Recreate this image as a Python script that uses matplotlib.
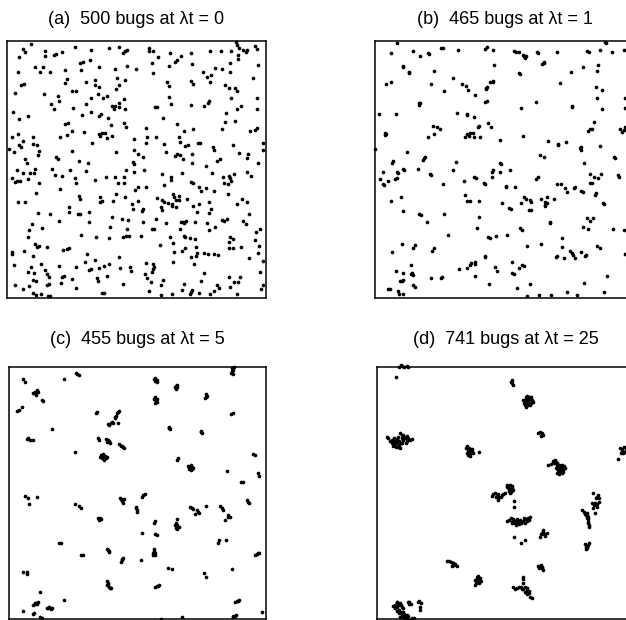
import numpy as np
import matplotlib.pyplot as plt

plt.rcParams['font.family'] = ['Liberation Sans', 'DejaVu Sans']

# occupied lattice sites: (column, row from the top[, bugs on the site])
bugs_a = [
    (73,11),(48,26),(54,35),(36,50),(113,30),(115,47),(140,43),(148,41),(165,35),(205,18),
    (252,29),(306,21),(337,20),(360,27),(353,31),(348,38),(426,21,2),(426,30),(440,30),(453,48),
    (490,36),(523,45),(510,59),(506,65),(552,37),(610,30),(642,30),(674,31),(688,3,2),(692,13),
    (696,21),(708,27,2),(722,29,2),(718,35),(744,17),(750,25),(693,43),(694,56),(755,73),(85,78),
    (98,93),(109,80),(128,93),(174,88),(219,66),(227,64),(222,89),(250,59),(277,78),(324,84),
    (359,76),(388,84),(435,66),(438,98),(486,75),(557,69),(624,81),(647,85),(670,68),(590,95),
    (602,110),(613,103),(611,123),(670,93),(740,113),(33,95),(41,133),(50,130),(179,116),(173,128),
    (238,123),(263,118,2),(263,133),(276,140),(330,111),(353,119),(336,133,2),(328,145,2),(480,123),(488,136),
    (553,120),(560,131),(656,133),(668,143),(686,143),(690,151),(24,158),(110,161),(194,151),(208,150),
    (273,159),(152,166),(155,180),(300,166),(287,172),(253,173),(236,190),(132,191),(141,206),(198,203),
    (325,195),(335,186),(337,199,2),(316,197,2),(320,205),(351,176),(353,204),(446,199),(452,199),(488,168),
    (492,189),(552,193),(592,197),(604,187),(608,181),(674,173),(751,173),(690,205),(704,197),(751,206),
    (17,213),(35,235),(64,225),(226,223),(252,213),(277,225),(282,220),(302,233),(468,233),(657,217),
    (175,250),(183,246),(312,253),(350,248),(358,258),(417,262),(510,250),(560,264),(532,270),(656,244),
    (686,240),(647,265),(730,270),(746,268),(752,262),(34,280),(15,290),(47,300),(35,313),(42,320),
    (22,335),(6,324),(78,290),(77,310),(90,313),(97,331),(93,343),(158,288),(180,283),(195,270),
    (230,273),(275,280),(285,276),(280,286,2),(293,276,2),(300,293),(315,286),(254,306),(195,331),(326,335),
    (380,294),(420,288),(418,306),(448,288,2),(472,311),(478,335),(516,290),(520,303),(536,315),(545,314),
    (574,308),(581,306),(620,318),(622,328),(680,313),(696,336),(724,340),(721,351),(770,308),(768,328),
    (147,348),(152,356),(217,360),(242,368),(382,328),(395,340),(408,350),(504,346),(510,341),(520,343),
    (528,356),(555,341),(556,368),(378,363),(380,370),(55,355),(60,368),(631,361),(640,356),(599,376),
    (754,368),(30,388),(48,396),(69,396),(80,398),(85,385),(63,416),(135,384),(143,402),(165,405),
    (189,388),(203,412),(206,427),(238,391),(15,413,2),(23,423),(31,420,2),(40,422),(96,426),(265,418),
    (298,408),(323,410),(332,426),(350,426),(351,410),(356,388),(380,393),(412,388),(466,400),(492,408),
    (494,418),(525,396),(552,423),(560,428),(576,440),(583,450),(597,441),(615,396),(650,408),(666,406),
    (683,401),(652,426),(663,430,2),(672,422,2),(670,413),(720,395),(732,406),(158,446),(86,458),(383,448),
    (393,440),(417,438),(472,434),(623,451),(665,460),(34,483),(55,483),(217,466),(220,474),(278,468),
    (280,483),(285,480),(317,481),(327,460),(355,468),(375,491),(393,481),(452,473),(466,478),(472,484),
    (485,487,2),(497,490),(501,470,2),(508,478),(499,460,2),(517,465),(518,478),(540,474),(577,490),(607,484),
    (692,490),(706,476),(720,485),(187,498),(93,518),(130,521),(185,515),(212,521),(219,521),(246,513),
    (378,505),(410,505),(405,511),(464,498),(467,507),(497,495),(507,498),(558,496),(570,515),(612,506),
    (607,518),(728,520),(74,549),(65,568),(62,588),(104,562),(155,541),(246,545),(314,530),(344,535),
    (364,539),(309,560),(360,565),(410,543),(447,535),(436,565),(442,565),(477,546),(522,543),(529,545,2),
    (533,548,2),(537,541,2),(566,545),(602,546),(645,538),(652,540),(662,536),(708,540),(717,550),(748,573),
    (760,565),(608,568),(626,558),(520,565),(531,585),(535,590),(550,593),(565,595),(221,583),(266,589),
    (306,592),(347,588),(358,586),(365,585),(402,586),(489,590),(500,607),(670,588),(680,596),(668,603),
    (744,598),(756,615),(85,610),(91,620),(96,617),(121,619),(168,629),(179,626),(187,623),(15,635),
    (14,640),(52,630),(77,646),(240,640),(336,649),(460,614),(502,633),(526,630),(535,623),(552,648),
    (567,646),(568,618),(570,638),(592,636),(605,641),(621,639),(633,644),(668,623),(680,621),(704,619),
    (726,653),(754,638),(22,672),(72,679),(103,671),(115,687),(120,700),(157,675),(206,680),(245,688),
    (253,685),(235,665),(264,659),(275,681),(290,675),(305,671),(339,682),(370,679),(371,692),(419,666),
    (438,669),(442,678),(438,685,2),(436,693,2),(500,664),(563,671),(770,661),(63,695),(80,698),(86,721),
    (78,719),(126,708),(120,733),(126,729),(165,708),(170,706),(196,715),(163,728),(208,743),(270,711),
    (273,721),(301,706),(348,730),(416,700),(420,711),(432,723),(428,750),(464,733),(470,718),(496,760),
    (533,730),(550,760),(527,747),(557,749,2),(552,753,2),(576,756),(591,698),(583,721),(611,761),(621,751),
    (631,733),(636,743),(666,708),(670,738),(683,725),(695,725),(701,708),(692,760),(760,693),(770,733),
    (764,745),(25,733),(47,745),(66,735),(77,758),(87,763),(102,760),(128,765,2),(123,766,2),(284,758),
    (290,757),(463,763),
]

bugs_b = [
    (67,8),(48,36),(115,31),(135,45),(159,38),(163,40,2),(199,21),(205,21,2),(249,28),(331,25),
    (336,20,2),(355,28),(417,31,2),(423,35,2),(433,35,2),(445,43,2),(450,51,2),(455,45,2),(448,46,2),(488,35,2),
    (490,38,2),(548,33),(638,30,2),(643,33,2),(677,29),(691,3,2),(695,7,2),(712,35),(747,29),(83,75,2),
    (85,78,2),(101,95,2),(103,98,2),(177,91),(357,73),(503,71,2),(508,63,2),(507,68,2),(590,93),(625,80),
    (669,73),(667,91),(33,130,2),(48,125,2),(168,129),(233,113),(260,131),(273,135),(279,148),(207,150),
    (301,163),(333,141,2),(335,138,2),(333,145,2),(345,123,2),(353,121,2),(355,125,2),(433,98,2),(435,100,2),(556,128),
    (665,138),(681,148),(667,172),(750,173),(133,188,2),(131,193,2),(135,186,2),(330,183,2),(336,180,2),(438,203),
    (485,183),(591,197,2),(593,199,2),(682,205),(750,201),(12,219),(64,220),(245,216,2),(275,219,2),(277,223,2),
    (297,228),(1,326),(30,278,2),(32,281,2),(29,283,2),(173,255),(187,260),(195,266),(177,280),(160,288),
    (310,258,2),(313,255,2),(340,246,2),(348,258),(270,288),(277,280,2),(285,276,2),(283,286,2),(293,278,2),(298,290),
    (315,288),(375,298),(445,286),(519,301),(549,314,2),(551,310,2),(575,305),(641,270,2),(647,266,2),(652,264,2),
    (659,243),(735,266,2),(741,274,2),(747,268,2),(752,258),(677,316),(618,328,2),(616,323,2),(620,318,2),(96,333),
    (147,353,2),(150,348,2),(145,358,2),(51,366,2),(53,360,2),(242,364),(235,388),(376,366,2),(379,371,2),(495,344),
    (509,348),(628,368),(717,348,2),(720,353,2),(23,393),(15,416),(25,430,2),(28,433,2),(39,420),(60,416,2),
    (65,413,2),(65,394,2),(69,396,2),(83,386,2),(88,388,2),(130,385),(165,400,2),(169,404,2),(205,430),(266,420),
    (297,408,2),(303,413,2),(327,426,2),(329,430,2),(351,393,2),(355,388,2),(351,408),(374,394),(405,388),(393,436,2),
    (395,440,2),(421,438),(485,416,2),(490,410,2),(547,430),(560,430),(572,441),(578,453),(598,443,2),(600,438,2),
    (619,451,2),(626,453,2),(647,428,2),(652,426,2),(647,401),(657,410),(670,411),(680,400),(663,458,2),(661,462,2),
    (731,403,2),(733,410,2),(49,481),(77,468),(271,463),(275,482,2),(285,482,2),(313,481),(380,488),(439,488),
    (449,470,2),(455,474,2),(465,478,2),(469,483,2),(499,475),(511,483,2),(517,470),(517,486,2),(511,494,2),(537,475),
    (686,488,2),(688,490,2),(85,511),(131,521,2),(138,523,2),(155,545),(207,519),(313,529),(305,561),(220,583),
    (339,590,2),(344,592,2),(363,586),(398,583),(403,503,2),(410,505,2),(462,507,2),(468,507,2),(511,497),(437,563,2),
    (443,568,2),(525,548,2),(527,545,2),(562,593),(500,610),(457,615),(563,620),(638,533,2),(645,541,2),(655,533),
    (625,560,2),(641,565,2),(715,565),(748,569),(667,617,2),(675,623,2),(545,648,2),(548,646,2),(569,651),(585,630),
    (592,636),(595,643),(600,651),(619,635),(631,645,2),(635,643,2),(751,641),(80,611),(113,621),(120,613),
    (50,633),(172,631,2),(177,623,2),(108,673),(63,690),(83,698),(109,700,2),(113,703,2),(111,698,2),(75,721,2),
    (80,721,2),(85,718,2),(115,733,2),(120,739,2),(168,713),(198,712,2),(200,709,2),(253,685),(275,683,2),(285,673,2),
    (288,668,2),(299,663,2),(301,671,2),(300,705),(330,646,2),(331,650,2),(360,679,2),(367,690,2),(413,665),(411,698,2),
    (417,699,2),(433,681),(442,673,2),(448,676,2),(341,730),(427,743),(465,730),(628,728),(696,707),(40,745,2),
    (45,745,2),(70,751),(73,761,2),(83,759,2),(458,765),(493,763),(530,762),(576,753),(608,764),(687,755),
]

bugs_c = [
    (42,38,2),(46,46,2),(72,80,2),(77,75,2),(82,70,2),(80,85,2),(75,80),(85,75),(98,100,2),(100,102),
    (30,130,2),(37,122,2),(22,132),(164,38),(200,20),(208,26,2),(204,23),(434,38,3),(440,42,3),(444,40,2),
    (438,44,3),(436,35),(442,47),(499,58,3),(502,62,3),(500,66,2),(496,62),(504,56),(437,92,2),(440,102,2),
    (438,108,2),(442,98,2),(435,98),(444,105),(589,82,2),(592,88,3),(587,95,2),(590,92),(668,5,2),(672,22,2),
    (666,18,2),(675,0,2),(670,10),(669,14),(666,142,2),(670,138,2),(262,135,2),(260,140,2),(320,148,2),(322,140,2),
    (328,132,2),(318,155,2),(325,137),(316,150),(297,172,2),(304,170,2),(312,168,2),(308,165),(300,175),(327,170),
    (129,187),(480,180,2),(482,188,2),(478,185,2),(480,184),(575,192,2),(578,198,2),(576,195),(52,217,2),(62,219,2),
    (70,221),(57,214),(265,215,2),(268,220,2),(290,217,2),(298,223,2),(294,227,2),(302,230,2),(296,220),(300,226),
    (328,233,2),(334,237,2),(342,240,2),(344,245,2),(338,238),(197,257),(272,270,3),(282,263,3),(287,267,3),(290,275,3),
    (278,275,3),(284,279,3),(292,271,3),(280,270),(286,273),(276,266),(504,280,2),(507,275,2),(537,297,3),(542,303,3),
    (547,300,3),(552,305,3),(544,310,3),(540,306),(548,308),(545,296),(652,313),(732,263,2),(737,265,2),(747,320,2),
    (748,327,2),(694,345,2),(700,345,2),(48,388,2),(57,395),(60,413),(82,390),(197,413,2),(210,418,2),(216,423,2),
    (332,393,3),(337,401,3),(342,409,3),(344,397,3),(339,404),(335,396),(400,385,2),(397,391,2),(407,382,2),(380,420,2),
    (382,430,2),(384,437,2),(381,425),(542,420,2),(552,427,2),(562,431,2),(568,440,2),(558,443,2),(547,425),(565,436),
    (590,418),(632,417,2),(637,425,2),(640,430,2),(714,400,2),(718,410,2),(716,405),(657,445,2),(662,450,2),(648,460,2),
    (655,452),(265,455,3),(272,453,3),(276,457,3),(268,460),(502,457,2),(434,468,2),(437,464,2),(500,470,3),(504,476,3),
    (508,482,3),(502,488,3),(497,475,3),(503,480),(499,483),(399,498),(437,502,2),(442,505,2),(150,528,2),(154,530,2),
    (215,565,2),(222,565,2),(294,548,2),(300,555,2),(297,550,2),(298,552),(434,548,3),(432,558,3),(436,565,3),(430,564,3),
    (433,553),(437,560),(337,578,2),(342,575,2),(334,585,2),(339,580),(395,580),(630,520,2),(627,528,2),(650,520),
    (750,558,2),(742,562,2),(738,565,2),(746,560),(40,617),(54,615,2),(52,622,2),(477,604,2),(488,606,2),(583,620,2),
    (590,630,2),(669,607),(294,642,2),(297,648,2),(292,655,2),(304,665,2),(300,660,2),(296,653),(302,663),(438,660,2),
    (447,658,2),(450,656,2),(443,657),(92,676),(76,708,3),(82,712,3),(72,715,3),(86,707,3),(79,708),(77,713),
    (116,723,3),(122,725,3),(127,723,3),(112,725,3),(119,721),(124,728),(165,700),(40,732),(72,743,2),(75,740,2),
    (92,750,2),(98,753,2),(682,702,2),(690,700,2),(677,705,2),(685,702),(672,747,3),(680,745,3),(670,752,3),(676,749),
    (757,735),(517,750),(455,757),
]

bugs_d = [
    # top edge, upper left
    (66,2,2),(73,-2,2),(80,0),(88,-3),(93,0),(70,-5),(56,32),(405,40,2),(403,50,2),(406,55,2),(402,46,2),
    # upper middle cluster
    (443,100,3),(448,95,3),(453,102,3),(458,98,3),(463,100,3),(448,110,3),(453,115,3),(440,108,3),(456,90,3),(466,105,3),
    (446,120,3),(450,88,3),(460,108,3),(445,92,3),(437,100,3),(452,108,3),(458,115,3),(442,115,3),(462,92,3),(449,103,3),
    (483,200,2),(493,198,2),(496,205,2),(488,196,2),(492,207,2),
    # left cluster
    (68,200,3),(78,204,3),(88,208,3),(33,215,3),(43,220,3),(48,225,3),(58,217,3),(66,223,3),(73,213,3),(78,220,3),
    (88,223,3),(98,220,3),(43,230,3),(53,233,3),(63,240,3),(68,243,3),(60,230,3),(38,222,3),(50,215,3),(53,222,3),
    (63,210,3),(70,230,3),(83,215,3),(93,213,3),(85,228,3),(75,228,3),(55,240,3),(48,238,3),(28,212,3),(103,217,3),
    (73,205,3),(60,225,3),(80,210,3),(65,235,3),
    (266,243,2),(273,250,2),(278,255,2),(283,247,2),(270,260,2),(278,267,2),(288,260,2),(306,257,2),(268,238,2),(275,243,2),
    (281,260,2),(285,253,2),(274,256,2),(272,265,2),(280,250,2),
    (728,245,2),(733,253,2),(740,240,2),(738,260,2),(723,277,2),(735,247,2),(745,250,2),(742,257,2),(730,258,2),(746,242,2),
    # right-middle cluster
    (533,280,3),(538,290,3),(543,300,3),(548,305,3),(553,295,3),(558,310,3),(546,315,3),(540,320,3),(553,320,3),(563,305,3),
    (513,295,3),(530,290,3),(540,300,3),(545,295,3),(550,310,3),(535,305,3),(555,305,3),(548,315,3),(543,310,3),(538,295,3),
    (557,315,3),(560,298,3),(535,285,3),(550,300,3),(545,322,3),(528,282,3),(520,292,3),
    # centre clusters
    (388,360,2),(398,355,2),(403,363,2),(408,370,2),(396,367,2),(400,375,2),(348,383,2),(358,387,2),(366,390,2),(373,385,2),
    (362,400,2),(378,383,2),(410,403,2),(410,422,2),(393,362,2),(401,368,2),(395,372,2),(390,355,2),(405,357,2),(352,380,2),
    (362,383,2),(370,390,2),(355,392,2),(343,388,2),(383,380,2),(397,380,2),
    (613,430,2),(620,437,2),(628,440,2),(633,450,2),(626,445,2),(631,465,2),(648,380,2),(660,390,2),(666,395,2),(653,410,2),
    (660,420,2),(643,410,2),(654,440,2),(623,442,2),(630,445,2),(628,455,2),(632,458,2),(655,395,2),(662,385,2),(650,415,2),
    (658,412,2),(648,425,2),(664,405,2),
    (396,460,3),(408,457,3),(418,463,3),(428,460,3),(440,455,3),(453,453,3),(458,450,3),(403,465,3),(413,470,3),(423,468,3),
    (433,465,3),(448,462,3),(400,455,3),(412,463,3),(420,457,3),(430,468,3),(438,462,3),(445,457,3),(455,460,3),(425,473,3),
    (416,475,3),(443,468,3),(404,470,3),(390,462,3),
    (633,468,2),(634,480,2),(636,474,2),
    (496,490,2),(493,498,2),(500,502,2),(508,500,2),(488,510,2),(498,495,2),(503,507,2),(490,503,2),
    (410,510,2),(430,530,2),(443,520,2),
    (624,532,2),(628,540,2),(633,535,2),(630,545,2),(626,548,2),(630,538,2),(625,540,2),(635,528,2),
    # lower clusters
    (210,582,2),(220,585,2),(228,588,2),(234,592,2),(224,598,2),(215,583,2),(230,594,2),(238,598,2),(226,590,2),
    (483,597,2),(488,600,2),(493,605,2),(498,610,2),(490,595,2),(495,600,2),(485,604,2),
    (298,632,2),(303,638,2),(306,645,2),(296,650,2),(310,642,2),(293,655,2),(300,640,2),(305,650,2),(298,645,2),(308,635,2),
    (301,628,2),(292,640,2),
    (436,638,2),(438,650,2),(408,662,2),(418,665,2),(426,660,2),(438,668,2),(448,665,2),(456,672,2),(443,675,2),(450,682,2),
    (458,692,2),(432,662,2),(442,660,2),(450,670,2),(446,677,2),(413,668,2),(433,668,2),(438,632,2),(455,680,2),(463,695,2),
    (60,705,3),(68,710,3),(53,715,3),(46,718,3),(73,722,3),(66,730,3),(58,732,3),(78,735,3),(73,745,3),(83,750,3),
    (68,750,3),(93,705,3),(96,712,3),(126,702,3),(130,710,3),(128,730,3),(103,755,3),(88,755,3),(63,715,3),(60,722,3),
    (70,716,3),(78,725,3),(66,738,3),(72,735,3),(80,742,3),(88,745,3),(76,750,3),(93,748,3),(95,760,3),(83,760,3),
    (53,725,3),(58,706,3),(96,705,3),(128,720,3),(122,705,3),(100,712,3),(110,755,3),
]

panels = [bugs_a, bugs_b, bugs_c, bugs_d]
letters = ['a', 'b', 'c', 'd']
n_bugs = [500, 465, 455, 741]
times = [0, 1, 5, 25]

fig = plt.figure(figsize=(6.26, 6.2), dpi=100)

# axes boxes in figure pixels: left, top, width, height
W, H = 626, 620
boxes = [(7, 40.7, 259, 257), (375, 40.7, 259, 257),
         (9.3, 366.7, 256.7, 252.3), (377.3, 366.7, 256.7, 252.3)]
extent = [(778, 771), (778, 771), (770, 757), (770, 757)]

for i, bugs in enumerate(panels):
    l, t, w, h = boxes[i]
    ax = fig.add_axes([l / W, 1 - (t + h) / H, w / W, h / H])
    sites = np.array([p[:2] for p in bugs], dtype=float)
    ax.scatter(sites[:, 0], sites[:, 1], s=7, c='black', linewidths=0, clip_on=False)
    ax.set_xlim(0, extent[i][0])
    ax.set_ylim(extent[i][1], 0)
    ax.set_xticks([])
    ax.set_yticks([])
    for sp in ax.spines.values():
        sp.set_linewidth(1.1)
    ty = 20 if i < 2 else 340
    fig.text((l + w / 2) / W, 1 - ty / H,
             f'({letters[i]})  {n_bugs[i]} bugs at \u03bbt = {times[i]}',
             ha='center', va='center', fontsize=13)

fig.savefig('out.png', dpi=100)
